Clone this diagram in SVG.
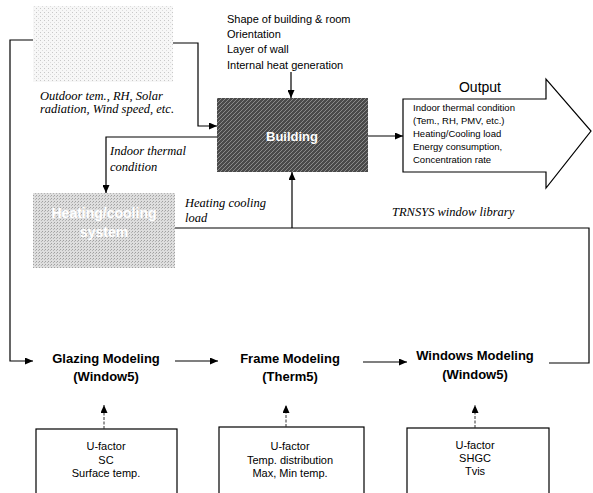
<svg xmlns="http://www.w3.org/2000/svg" width="593" height="493" viewBox="0 0 593 493">
<defs>
<style>
.ln{fill:none;stroke:#000;stroke-width:1.2}
.dash{fill:none;stroke:#333;stroke-width:1;stroke-dasharray:3 1.5}
.sans{font-family:"Liberation Sans",Arial,sans-serif;fill:#000}
.it{font-family:"Liberation Serif","Times New Roman",serif;font-style:italic;font-size:12.5px;fill:#000}
.top{font-size:11px}
.out{font-size:9.5px}
.bx{font-size:11px;text-anchor:middle}
.hd{font-size:13px;font-weight:bold;text-anchor:middle}
.box{fill:#fff;stroke:#000;stroke-width:1.2}
</style>
<pattern id="hatch" width="4" height="4" patternUnits="userSpaceOnUse">
<rect width="4" height="4" fill="#4a4a4a"/>
<path d="M0,4 L4,0 M-1,1 L1,-1 M3,5 L5,3" stroke="#8a8a8a" stroke-width="1"/>
</pattern>
<pattern id="lightdots" width="4" height="4" patternUnits="userSpaceOnUse">
<rect width="4" height="4" fill="#f7f7f7"/>
<rect x="0" y="0" width="1" height="1" fill="#c8c8c8"/>
<rect x="2" y="2" width="1" height="1" fill="#dcdcdc"/>
</pattern>
<pattern id="middots" width="3" height="3" patternUnits="userSpaceOnUse">
<rect width="3" height="3" fill="#dedede"/>
<rect x="0" y="0" width="1" height="1" fill="#a0a0a0"/>
<rect x="2" y="1" width="1" height="1" fill="#b4b4b4"/>
</pattern>
<marker id="ah" markerUnits="userSpaceOnUse" markerWidth="8" markerHeight="7" refX="8" refY="3.5" orient="auto">
<path d="M0,0 L8,3.5 L0,7 z" fill="#000"/>
</marker>
</defs>
<rect width="593" height="493" fill="#fff"/>

<g id="weather">
<rect x="33" y="6" width="140" height="76" fill="url(#lightdots)"/>
</g>
<g id="weather-label">
<text class="it" x="40" y="100">Outdoor tem., RH, Solar</text>
<text class="it" x="40" y="113">radiation, Wind speed, etc.</text>
</g>

<g id="building-inputs" class="sans top">
<text x="227" y="23">Shape of building &amp; room</text>
<text x="227" y="38">Orientation</text>
<text x="227" y="53">Layer of wall</text>
<text x="227" y="69">Internal heat generation</text>
</g>

<g id="building">
<rect x="217" y="98" width="151" height="74" fill="url(#hatch)"/>
<text class="sans hd" x="292" y="141" style="fill:#fff">Building</text>
</g>

<g id="output">
<polygon points="403,99 546,99 546,79 591,131 546,188 546,172 403,172" fill="#fff" stroke="#000" stroke-width="1.2"/>
<text class="sans" x="480" y="92" font-size="14" text-anchor="middle">Output</text>
<g class="sans out">
<text x="413" y="111">Indoor thermal condition</text>
<text x="413" y="124">(Tem., RH, PMV, etc.)</text>
<text x="413" y="137">Heating/Cooling load</text>
<text x="413" y="150">Energy consumption,</text>
<text x="413" y="163">Concentration rate</text>
</g>
</g>

<g id="hvac">
<rect x="33" y="193" width="142" height="75" fill="url(#middots)"/>
<text class="sans hd" x="104" y="218" style="fill:#fff;font-size:14px">Heating/cooling</text>
<text class="sans hd" x="104" y="237" style="fill:#fff;font-size:14px">system</text>
</g>

<g id="edge-labels">
<text class="it" x="110" y="155">Indoor thermal</text>
<text class="it" x="110" y="171">condition</text>
<text class="it" x="185" y="207">Heating cooling</text>
<text class="it" x="185" y="222">load</text>
<text class="it" x="392" y="216">TRNSYS window library</text>
</g>

<g id="glazing">
<text class="sans hd" x="106" y="363">Glazing Modeling</text>
<text class="sans hd" x="106" y="381">(Window5)</text>
</g>
<g id="frame">
<text class="sans hd" x="290" y="363">Frame Modeling</text>
<text class="sans hd" x="290" y="381">(Therm5)</text>
</g>
<g id="windows">
<text class="sans hd" x="475" y="360">Windows Modeling</text>
<text class="sans hd" x="475" y="379">(Window5)</text>
</g>

<g id="glazing-results">
<rect class="box" x="36" y="429" width="141" height="70"/>
<g class="sans bx">
<text x="106" y="450">U-factor</text>
<text x="106" y="464">SC</text>
<text x="106" y="477">Surface temp.</text>
</g>
</g>
<g id="frame-results">
<rect class="box" x="219" y="427" width="145" height="72"/>
<g class="sans bx">
<text x="290" y="450">U-factor</text>
<text x="290" y="464">Temp. distribution</text>
<text x="290" y="477">Max, Min temp.</text>
</g>
</g>
<g id="windows-results">
<rect class="box" x="407" y="428" width="142" height="71"/>
<g class="sans bx">
<text x="475" y="449">U-factor</text>
<text x="475" y="462">SHGC</text>
<text x="475" y="475">Tvis</text>
</g>
</g>

<g id="connectors">
<path class="ln" d="M33,40 H10 V361 H33" marker-end="url(#ah)"/>
<path class="ln" d="M173,43 H198 V126 H217" marker-end="url(#ah)"/>
<path class="ln" d="M291,72 V98" marker-end="url(#ah)"/>
<path class="ln" d="M368,136 H403" marker-end="url(#ah)"/>
<path class="ln" d="M217,137 H106 V193" marker-end="url(#ah)"/>
<path class="ln" d="M175,228 H589 V363 H549"/>
<path class="ln" d="M292,228 V172" marker-end="url(#ah)"/>
<path class="ln" d="M175,361 H218" marker-end="url(#ah)"/>
<path class="ln" d="M363,362 H407" marker-end="url(#ah)"/>
<path class="dash" d="M104,429 V405" marker-end="url(#ah)"/>
<path class="dash" d="M286,427 V405" marker-end="url(#ah)"/>
<path class="dash" d="M475,428 V405" marker-end="url(#ah)"/>
</g>
</svg>
